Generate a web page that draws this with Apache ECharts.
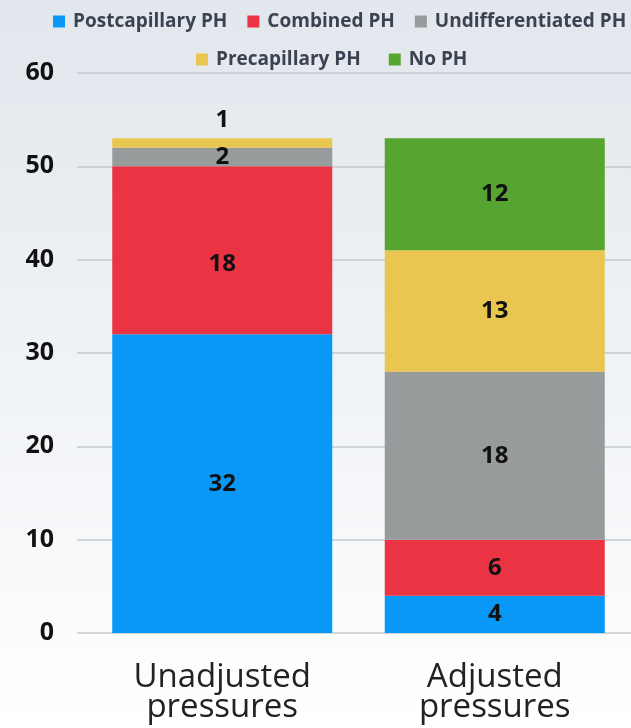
<!DOCTYPE html>
<html>
<head>
<meta charset="utf-8">
<script src="https://cdn.jsdelivr.net/npm/echarts@6/dist/echarts.min.js"></script>
<style>
  html, body { margin: 0; padding: 0; }
  #chart { width: 631px; height: 728px; background: linear-gradient(#e2e7ed 0%, #eef1f5 45%, #ffffff 100%); }
</style>
</head>
<body>
<div id="chart"></div>
<script>
// Categories and per-group counts for each PH classification
const categories = ['Unadjusted\npressures', 'Adjusted\npressures'];
const postcapillary = [32, 4];
const combined = [18, 6];
const undifferentiated = [2, 18];
const precapillary = [1, 13];
const noPH = [0, 12];
const yTicks = [0, 10, 20, 30, 40, 50, 60];

const seriesDefs = [
  { name: 'Postcapillary PH', data: postcapillary, color: '#0a98f6' },
  { name: 'Combined PH', data: combined, color: '#ea3444' },
  { name: 'Undifferentiated PH', data: undifferentiated, color: '#989b9c' },
  { name: 'Precapillary PH', data: precapillary, color: '#e8c64f' },
  { name: 'No PH', data: noPH, color: '#56a530' }
];

const labelFont = { fontFamily: 'Open Sans', fontWeight: 'bold', fontSize: 24, color: '#111' };

const chart = echarts.init(document.getElementById('chart'), null, { renderer: 'canvas' });

const series = seriesDefs.map(function (s) {
  return {
    name: s.name,
    type: 'bar',
    stack: 'total',
    xAxisIndex: 1,
    yAxisIndex: 1,
    barWidth: 220,
    itemStyle: { color: s.color },
    label: Object.assign({
      show: true,
      position: 'inside',
      formatter: function (p) { return p.value > 0 ? String(p.value) : ''; }
    }, labelFont),
    data: s.data.map(function (v, i) {
      const item = { value: v };
      // thin top segment gets its label placed above the bar
      if (s.name === 'Precapillary PH' && i === 0) {
        item.label = { position: 'top', distance: 6 };
      }
      if (s.name === 'Combined PH' && i === 0) {
        item.label = { offset: [0, 14] };
      }
      return item;
    })
  };
});

// Color marker legend entries
const legendText = {
  fontFamily: 'Open Sans',
  fontWeight: 'bold',
  fontSize: 19,
  color: '#3c4250',
  padding: [0, 0, 0, 3]
};

chart.setOption({
  animation: false,
  color: seriesDefs.map(function (s) { return s.color; }),
  legend: [
    {
      data: ['Postcapillary PH', 'Combined PH', 'Undifferentiated PH'],
      top: 7, left: 48, width: 700,
      itemWidth: 12, itemHeight: 12, itemGap: 20,
      icon: 'rect',
      textStyle: legendText
    },
    {
      data: ['Precapillary PH', 'No PH'],
      top: 45, left: 191, width: 500,
      itemWidth: 12, itemHeight: 12, itemGap: 28,
      icon: 'rect',
      textStyle: legendText
    }
  ],
  grid: [
    { left: 77, right: 0, top: 73, bottom: 95 },
    { left: 86, right: -2, top: 73, bottom: 95 }
  ],
  xAxis: [
    { gridIndex: 0, type: 'category', data: categories, show: false },
    {
      gridIndex: 1,
      type: 'category',
      data: categories,
      axisLine: { show: false },
      axisTick: { show: false },
      axisLabel: {
        margin: 30,
        fontFamily: 'Open Sans',
        fontSize: 33,
        lineHeight: 30,
        color: '#222'
      }
    }
  ],
  yAxis: [
    {
      gridIndex: 0,
      type: 'value',
      min: yTicks[0],
      max: yTicks[yTicks.length - 1],
      interval: 10,
      axisLine: { show: false },
      axisTick: { show: false },
      splitLine: { lineStyle: { color: '#c4c8cd', width: 1.5 } },
      axisLabel: {
        margin: 23,
        fontFamily: 'Open Sans',
        fontWeight: 'bold',
        fontSize: 25,
        color: '#111',
        padding: [4, 0, 0, 0]
      }
    },
    {
      gridIndex: 1,
      type: 'value',
      min: yTicks[0],
      max: yTicks[yTicks.length - 1],
      interval: 10,
      show: false
    }
  ],
  series: series
});
</script>
</body>
</html>
